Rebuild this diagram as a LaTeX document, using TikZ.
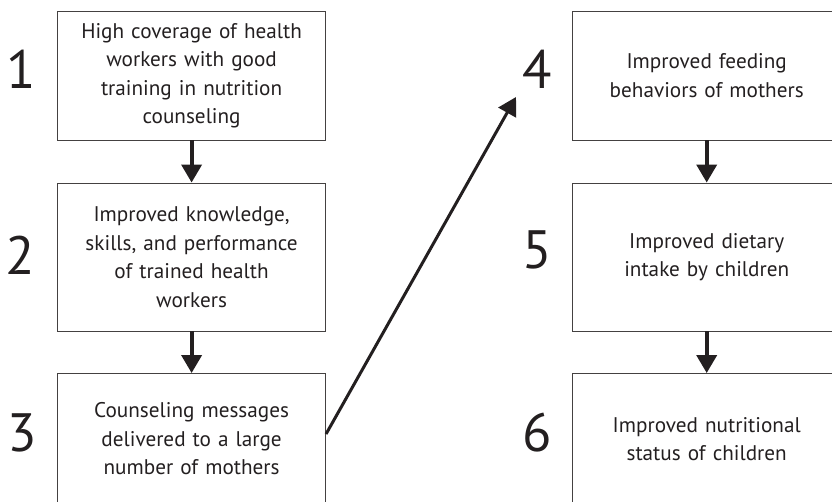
\documentclass[tikz,border=0pt]{standalone}
\usepackage{fontspec}
\setmainfont{PT Sans}
\usetikzlibrary{arrows.meta}
\definecolor{ink}{HTML}{231F20}
\tikzset{>={Triangle[length=18pt,width=20pt]}}
\tikzset{
  stepbox/.style = {draw=ink!85, line width=0.9pt, text=ink, align=center,
    text width=255pt, minimum width=268pt, inner sep=0pt,
    font=\fontsize{21.2}{28.5}\selectfont},
  stepnum/.style = {text=ink, inner sep=0pt, font=\fontsize{54}{54}\selectfont},
  flow/.style = {->, ink, line width=3.8pt}
}

\begin{document}
\begin{tikzpicture}[x=1pt,y=-1pt]
  \useasboundingbox (0,0) rectangle (832,502);
  % left column
  \node[stepbox, minimum height=129pt] (b1) at (191.6,75.5)
    {High coverage of health\\ workers with good\\ training in nutrition\\ counseling};
  \node[stepbox, minimum height=148pt] (b2) at (191.6,257)
    {Improved knowledge,\\ skills, and performance\\ of trained health\\ workers};
  \node[stepbox, minimum height=131pt] (b3) at (191.6,439)
    {Counseling messages\\ delivered to a large\\ number of mothers};
  % right column
  \node[stepbox, minimum height=129pt] (b4) at (706.7,75.5)
    {Improved feeding\\ behaviors of mothers};
  \node[stepbox, minimum height=148pt] (b5) at (706.7,257)
    {Improved dietary\\ intake by children};
  \node[stepbox, minimum height=131pt] (b6) at (706.7,439)
    {Improved nutritional\\ status of children};
  % numbers
  \node[stepnum] (n1) at (21,69) {1};
  \node[stepnum] (n2) at (20,255) {2};
  \node[stepnum] (n3) at (22,433) {3};
  \node[stepnum] (n4) at (537,69) {4};
  \node[stepnum] (n5) at (537,250) {5};
  \node[stepnum] (n6) at (537,433) {6};
  % arrows
  \draw[flow] (b1) -- (b2);
  \draw[flow] (b2) -- (b3);
  \draw[flow] (b4) -- (b5);
  \draw[flow] (b5) -- (b6);
  \coordinate (tip) at (516,97);
  \draw[flow, line width=3pt] ([yshift=5pt]b3.east) -- (tip);
\end{tikzpicture}
\end{document}
